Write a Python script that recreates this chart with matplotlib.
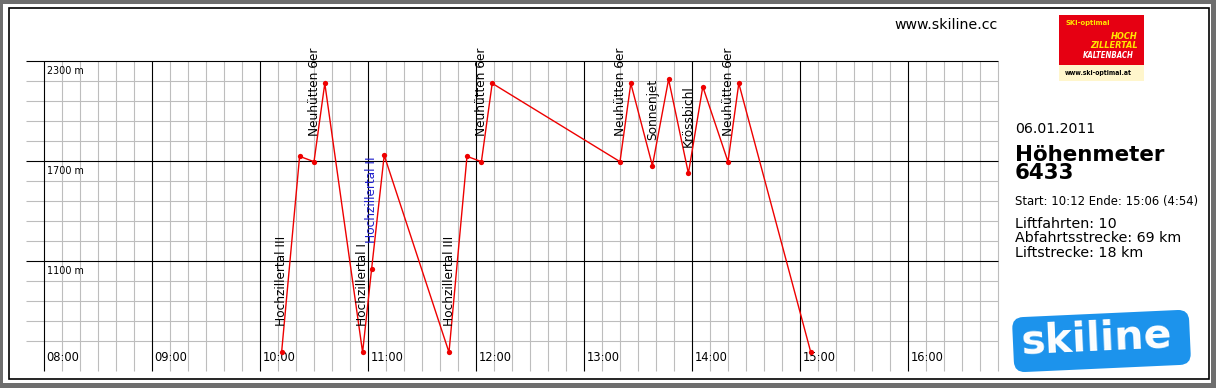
import matplotlib
matplotlib.use("Agg")
import matplotlib.pyplot as plt
from matplotlib.patches import Rectangle, FancyBboxPatch
from matplotlib.transforms import Affine2D

# ---------------- data ----------------
times = ["10:12", "10:22", "10:30", "10:36", "10:57", "11:02", "11:09", "11:45", "11:55",
         "12:03", "12:09", "13:20", "13:26", "13:38", "13:47", "13:58", "14:06", "14:20",
         "14:26", "15:06"]
elevations = [552, 1728, 1696, 2166, 552, 1052, 1734, 552, 1728,
              1696, 2166, 1696, 2166, 1672, 2190, 1626, 2146, 1696,
              2166, 552]
lift_names = ["Hochzillertal III", "Neuhütten 6er", "Hochzillertal I", "Hochzillertal II",
              "Hochzillertal III", "Neuhütten 6er", "Neuhütten 6er", "Sonnenjet",
              "Krössbichl", "Neuhütten 6er"]
lift_start_index = [0, 2, 4, 5, 7, 9, 11, 13, 15, 17]
lift_highlight = [False, False, False, True, False, False, False, False, False, False]
hour_labels = ["08:00", "09:00", "10:00", "11:00", "12:00", "13:00", "14:00", "15:00", "16:00"]
major_elev = [1100, 1700, 2300]
date_text = "06.01.2011"
hm_total = "6433"
info_start = "Start: 10:12 Ende: 15:06 (4:54)"
info_lines = ["Liftfahrten: 10", "Abfahrtsstrecke: 69 km", "Liftstrecke: 18 km"]


def to_hours(s):
    h, m = s.split(":")
    return int(h) + int(m) / 60.0


W, H = 1216, 388
fig = plt.figure(figsize=(W / 100, H / 100), dpi=100)
fig.patch.set_facecolor("#6e6e6e")


def pix():
    # pixel coordinates measured from the top-left corner
    return Affine2D().scale(1.0 / W, -1.0 / H).translate(0, 1) + fig.transFigure


# white page + black frame
fig.add_artist(Rectangle((3, 4), 1208, 378.5, transform=pix(), facecolor="white",
                         edgecolor="none", zorder=0))
fig.add_artist(Rectangle((9, 7.5), 1199.5, 371, transform=pix(), facecolor="none",
                         edgecolor="black", linewidth=1.2, zorder=1))

# ---------------- chart axes ----------------
x0 = 7 + 50 / 60.0
x1 = 16 + 50 / 60.0
y_bottom, y_top = 440, 2300
ax_left, ax_right, ax_top, ax_bot = 26, 998, 61, 371
ax = fig.add_axes([ax_left / W, 1 - ax_bot / H, (ax_right - ax_left) / W, (ax_bot - ax_top) / H])
ax.set_xlim(x0, x1)
ax.set_ylim(y_bottom, y_top)
ax.axis("off")

lw = 0.8
grey = "#bdbdbd"
for e in range(620, 2301, 120):
    major = e in major_elev
    ax.plot([x0, x1], [e, e], color="black" if major else grey, lw=lw,
            zorder=2 if major else 1, clip_on=False, solid_capstyle="butt")
for k in range(0, 54):
    t = 8 + k / 6.0
    major = (k % 6 == 0)
    ax.plot([t, t], [y_bottom, y_top], color="black" if major else grey, lw=lw,
            zorder=2 if major else 1, clip_on=False, solid_capstyle="butt")

for i, lab in enumerate(hour_labels):
    ax.annotate(lab, xy=(8 + i, y_bottom), xytext=(1.7, 7.3), textcoords="offset points",
                ha="left", va="baseline", fontsize=8.3, color="black", zorder=3)
for e in major_elev:
    ax.annotate(f"{e} m", xy=(8, e), xytext=(2.2, -9.4), textcoords="offset points",
                ha="left", va="baseline", fontsize=6.9, color="black", zorder=3)

tx = [to_hours(s) for s in times]
ax.plot(tx, elevations, color="#ee0000", lw=1.0, marker="o", markersize=3.8,
        markeredgewidth=0, zorder=5, clip_on=False)

for name, idx, hl in zip(lift_names, lift_start_index, lift_highlight):
    ax.annotate(name, xy=(tx[idx], elevations[idx]), xytext=(0, 18.8),
                textcoords="offset points", rotation=90, ha="center", va="bottom",
                fontsize=8.7, color="#2020cc" if hl else "black", zorder=6)

# ---------------- right panel ----------------
fig.text(998 / W, 1 - 29.3 / H, "www.skiline.cc", ha="right", va="baseline",
         fontsize=10.2, color="black")
fig.text(1015 / W, 1 - 133.3 / H, date_text, ha="left", va="baseline", fontsize=10.2)
fig.text(1015 / W, 1 - 161 / H, "Höhenmeter", ha="left", va="baseline", fontsize=15.4,
         fontweight="bold")
fig.text(1015 / W, 1 - 179 / H, hm_total, ha="left", va="baseline", fontsize=15.4,
         fontweight="bold")
fig.text(1015 / W, 1 - 205.5 / H, info_start, ha="left", va="baseline", fontsize=8.4)
for i, line in enumerate(info_lines):
    fig.text(1015 / W, 1 - (227.7 + 14.6 * i) / H, line, ha="left", va="baseline",
             fontsize=10.3)

# ---------------- SKI-optimal logo ----------------
fig.add_artist(Rectangle((1059, 14.5), 85, 50.5, transform=pix(), facecolor="#e60012",
                         edgecolor="none", zorder=3))
fig.add_artist(Rectangle((1059, 65), 85, 16, transform=pix(), facecolor="#fff6cc",
                         edgecolor="none", zorder=3))
cond = dict(family="DejaVu Sans", fontstretch="condensed", fontweight="bold")
fig.text(1065 / W, 1 - 25.3 / H, "SKI-optimal", ha="left", va="baseline", fontsize=5.4,
         color="#ffe600", zorder=4, **cond)
fig.text(1137.5 / W, 1 - 38.7 / H, "HOCH", ha="right", va="baseline", fontsize=6.6,
         style="italic", color="#ffe600", zorder=4, **cond)
fig.text(1137.5 / W, 1 - 48.3 / H, "ZILLERTAL", ha="right", va="baseline", fontsize=6.6,
         style="italic", color="#ffe600", zorder=4, **cond)
fig.text(1133.5 / W, 1 - 58.3 / H, "KALTENBACH", ha="right", va="baseline", fontsize=5.6,
         style="italic", color="white", zorder=4, **cond)
fig.text(1098.5 / W, 1 - 74.5 / H, "www.ski-optimal.at", ha="center", va="baseline",
         fontsize=4.9, color="black", zorder=4, **cond)

# ---------------- skiline logo ----------------
cx, cy = 1101.5, 341
rot = Affine2D().rotate_deg_around(cx, H - cy, 2.6).scale(1.0 / W, 1.0 / H) + fig.transFigure
fig.add_artist(FancyBboxPatch((1013, H - 368.5), 177, 55,
                              boxstyle="round,pad=0,rounding_size=11",
                              transform=rot, facecolor="#1c93ec", edgecolor="none", zorder=3))
fig.text(1097 / W, 1 - 339.5 / H, "skiline", ha="center", va="center", fontsize=29.5,
         fontweight="bold", color="white", rotation=2.6, zorder=4,
         family=["DejaVu Sans"])

fig.savefig("out.png", dpi=100, facecolor=fig.get_facecolor())
